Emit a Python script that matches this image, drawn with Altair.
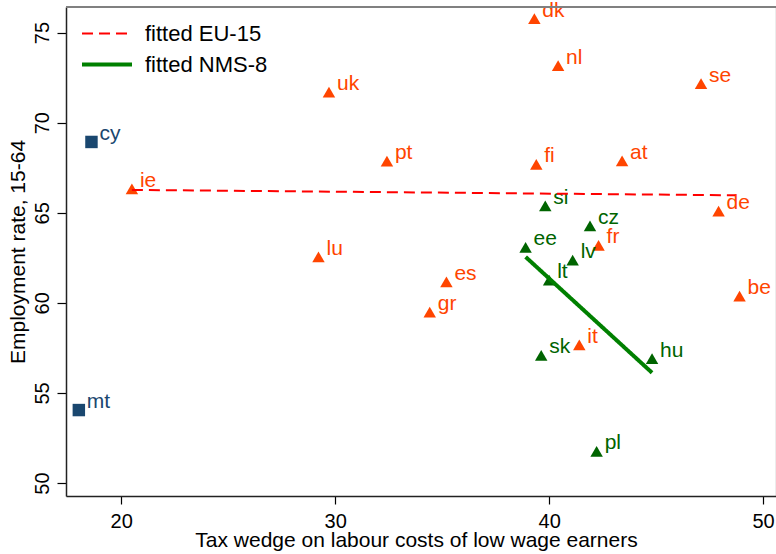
import altair as alt
import pandas as pd

# ---- data ----
labels = ["dk", "nl", "se", "uk", "cy", "pt", "fi", "at", "ie", "si", "de", "cz", "ee",
          "fr", "lv", "lu", "lt", "es", "gr", "be", "it", "sk", "hu", "mt", "pl"]
tax_wedge = [39.31, 40.42, 47.10, 29.71, 18.61, 32.42, 39.40, 43.41, 20.50, 39.82, 47.92, 41.91, 38.90,
             42.31, 41.10, 29.22, 40.00, 35.20, 34.42, 48.90, 41.41, 39.63, 44.81, 18.02, 42.22]
employment = [75.78, 73.17, 72.17, 71.69, 68.93, 67.87, 67.68, 67.88, 66.33, 65.38, 65.09, 64.27, 63.08,
              63.19, 62.37, 62.55, 61.26, 61.17, 59.49, 60.37, 57.67, 57.09, 56.90, 54.05, 51.76]
group = ["EU-15", "EU-15", "EU-15", "EU-15", "other", "EU-15", "EU-15", "EU-15", "EU-15", "NMS-8",
         "EU-15", "NMS-8", "NMS-8", "EU-15", "NMS-8", "EU-15", "NMS-8", "EU-15", "EU-15", "EU-15",
         "EU-15", "NMS-8", "NMS-8", "other", "NMS-8"]

fit_series = ["fitted EU-15", "fitted EU-15", "fitted NMS-8", "fitted NMS-8"]
fit_x = [20.50, 48.70, 38.90, 44.81]
fit_y = [66.27, 65.97, 62.55, 56.12]

x_ticks = [20, 30, 40, 50]
y_ticks = [50, 55, 60, 65, 70, 75]

pts = pd.DataFrame({"label": labels, "x": tax_wedge, "y": employment, "grp": group})
fits = pd.DataFrame({"series": fit_series, "x": fit_x, "y": fit_y})

FONT = "Liberation Sans"
W, H = 709.5, 489

grp_dom = ["EU-15", "NMS-8", "other"]
grp_col = ["#ff4500", "#006400", "#1a476f"]
ser_dom = ["fitted EU-15", "fitted NMS-8"]

xs = alt.Scale(domain=[17.42, 50.58], nice=False, zero=False)
ys = alt.Scale(domain=[49.28, 76.42], nice=False, zero=False)

xax = alt.Axis(values=x_ticks, grid=False, title="Tax wedge on labour costs of low wage earners",
               labelFontSize=20, labelFont=FONT, labelColor="black", tickSize=8, tickColor="black",
               labelPadding=7, domainColor="#222", domainWidth=1.5, tickWidth=1.2,
               titleFontSize=21, titleFont=FONT, titleFontWeight="normal", titleColor="black",
               titleBaseline="alphabetic", titleY=50.5, titleX=350, titleAlign="center")
yax = alt.Axis(values=y_ticks, grid=False, title="Employment rate, 15-64",
               labelFontSize=20, labelFont=FONT, labelColor="black", tickSize=9, tickColor="black",
               labelAngle=-90, labelAlign="center", labelBaseline="alphabetic", labelPadding=9,
               domainColor="#222", domainWidth=1.5, tickWidth=1.2,
               titleFontSize=21, titleFont=FONT, titleFontWeight="normal", titleColor="black",
               titleAngle=-90, titleBaseline="alphabetic", titleX=-41.5, titleY=H / 2,
               titleAlign="center")

base = alt.Chart(pts)
grp_fill = alt.Fill("grp:N", scale=alt.Scale(domain=grp_dom, range=grp_col), legend=None)

points = base.mark_point(filled=True, opacity=1, strokeWidth=0).encode(
    x=alt.X("x:Q", scale=xs, axis=xax),
    y=alt.Y("y:Q", scale=ys, axis=yax),
    fill=grp_fill,
    shape=alt.Shape("grp:N", scale=alt.Scale(domain=grp_dom, range=["triangle-up", "triangle-up", "square"]),
                    legend=None),
    size=alt.Size("grp:N", scale=alt.Scale(domain=grp_dom, range=[155, 155, 112]), legend=None),
)

texts = base.mark_text(align="left", baseline="alphabetic", dx=8, dy=-2, fontSize=21, font=FONT).encode(
    x=alt.X("x:Q", scale=xs),
    y=alt.Y("y:Q", scale=ys),
    text="label:N",
    fill=grp_fill,
)

leg = alt.Legend(title=None, orient="none", legendX=14, legendY=11,
                 symbolType="stroke", symbolSize=2500, labelFontSize=22,
                 labelFont=FONT, labelColor="black", labelOffset=11,
                 clipHeight=31, rowPadding=0, padding=0)

lines = alt.Chart(fits).mark_line().encode(
    x=alt.X("x:Q", scale=xs),
    y=alt.Y("y:Q", scale=ys),
    color=alt.Color("series:N", scale=alt.Scale(domain=ser_dom, range=["#ff0000", "#008000"]), legend=leg),
    strokeDash=alt.StrokeDash("series:N", scale=alt.Scale(domain=ser_dom, range=[[11, 6], [1, 0]]),
                              legend=leg),
    strokeWidth=alt.StrokeWidth("series:N", scale=alt.Scale(domain=ser_dom, range=[2, 4]), legend=leg),
)

top_frame = alt.Chart(pts).mark_rule(color="#808080", strokeWidth=2).encode(
    x=alt.value(0), x2=alt.value(W), y=alt.value(0)
)

chart = alt.layer(points, texts, lines, top_frame).properties(
    width=W, height=H,
    autosize=alt.AutoSizeParams(type="none"),
    padding={"left": 66, "top": 7, "right": 0, "bottom": 58},
    background="white",
).configure_view(stroke="#d8d8d8", strokeWidth=1)

chart.save("out.html", embed_options={"renderer": "svg", "actions": False})
